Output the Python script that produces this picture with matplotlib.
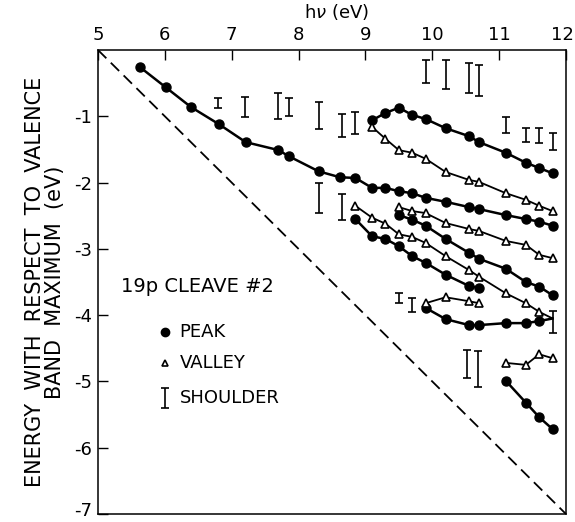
import numpy as np
import matplotlib.pyplot as plt
import matplotlib.transforms as mtransforms

plt.rcParams['font.family'] = ['DejaVu Sans']

# photon energy (eV) / energy (eV)
peak_1_x = [5.63, 6.01, 6.39, 6.81, 7.21, 7.70, 7.85, 8.30, 8.62, 8.85, 9.1, 9.3, 9.5, 9.7, 9.9, 10.2, 10.55, 10.7, 11.1, 11.4, 11.6, 11.8]
peak_1_y = [-0.26, -0.56, -0.86, -1.12, -1.39, -1.51, -1.60, -1.83, -1.92, -1.93, -2.08, -2.08, -2.13, -2.16, -2.23, -2.29, -2.37, -2.40, -2.49, -2.55, -2.59, -2.65]

peak_2_x = [9.1, 9.3, 9.5, 9.7, 9.9, 10.2, 10.55, 10.7, 11.1, 11.4, 11.6, 11.8]
peak_2_y = [-1.06, -0.95, -0.87, -0.98, -1.04, -1.18, -1.30, -1.39, -1.55, -1.70, -1.78, -1.86]

peak_3_x = [9.5, 9.7, 9.9, 10.2, 10.55, 10.7, 11.1, 11.4, 11.6, 11.8]
peak_3_y = [-2.49, -2.56, -2.65, -2.85, -3.06, -3.15, -3.30, -3.50, -3.57, -3.70]

peak_4_x = [8.85, 9.1, 9.3, 9.5, 9.7, 9.9, 10.2, 10.55, 10.7]
peak_4_y = [-2.55, -2.81, -2.85, -2.96, -3.11, -3.21, -3.39, -3.56, -3.59]

peak_5_x = [9.9, 10.2, 10.55, 10.7, 11.1, 11.4, 11.6]
peak_5_y = [-3.89, -4.06, -4.15, -4.15, -4.12, -4.12, -4.09]

peak_6_x = [11.1, 11.4, 11.6, 11.8]
peak_6_y = [-4.99, -5.32, -5.54, -5.72]

valley_1_x = [9.1, 9.3, 9.5, 9.7, 9.9, 10.2, 10.55, 10.7, 11.1, 11.4, 11.6, 11.8]
valley_1_y = [-1.16, -1.34, -1.51, -1.55, -1.64, -1.84, -1.96, -1.99, -2.16, -2.26, -2.35, -2.43]

valley_2_x = [9.5, 9.7, 9.9, 10.2, 10.55, 10.7, 11.1, 11.4, 11.6, 11.8]
valley_2_y = [-2.37, -2.43, -2.46, -2.61, -2.70, -2.73, -2.88, -2.94, -3.09, -3.14]

valley_3_x = [8.85, 9.1, 9.3, 9.5, 9.7, 9.9, 10.2, 10.55, 10.7, 11.1, 11.4, 11.6]
valley_3_y = [-2.35, -2.53, -2.62, -2.78, -2.82, -2.91, -3.11, -3.32, -3.42, -3.67, -3.82, -3.95]

valley_4_x = [9.9, 10.2, 10.55, 10.7]
valley_4_y = [-3.82, -3.73, -3.79, -3.82]

valley_5_x = [11.1, 11.4, 11.6, 11.8]
valley_5_y = [-4.72, -4.75, -4.59, -4.65]

# shoulder bars: photon energy, top and bottom of the bar
shoulder_x = [6.8, 7.2, 7.7, 7.85, 8.3, 8.3, 8.65, 8.65, 8.85, 9.9, 10.2, 10.55, 10.7,
              11.1, 11.4, 11.6, 11.8, 9.5, 9.7, 11.8, 10.52, 10.69]
shoulder_top = [-0.72, -0.71, -0.65, -0.72, -0.78, -2.01, -0.97, -2.17, -0.94, -0.15, -0.15, -0.20, -0.23,
                -1.01, -1.18, -1.18, -1.25, -3.67, -3.74, -3.94, -4.52, -4.54]
shoulder_bot = [-0.87, -1.01, -1.04, -0.99, -1.19, -2.46, -1.31, -2.56, -1.27, -0.50, -0.59, -0.65, -0.69,
                -1.25, -1.39, -1.40, -1.51, -3.82, -3.95, -4.27, -4.95, -5.08]

# the two curves that run into the shoulder at 11.8 eV
join_x, join_y = 11.8, -4.05

fig = plt.figure(figsize=(5.75, 5.22), dpi=100)
ax = fig.add_axes([0.1704, 0.0153, 0.8139, 0.8889])

# dashed diagonal
ax.plot([5, 12], [0, -7], color='black', lw=1.3, dashes=(6.5, 3.5))

pk = dict(color='black', lw=1.8, marker='o', ms=6.5, mfc='black', mec='black')
vl = dict(color='black', lw=1.3, marker='^', ms=6, mfc='white', mec='black', mew=1.2)

for px, py in [(peak_1_x, peak_1_y), (peak_2_x, peak_2_y), (peak_3_x, peak_3_y),
               (peak_4_x, peak_4_y), (peak_6_x, peak_6_y)]:
    ax.plot(px, py, **pk)
ax.plot(peak_5_x + [join_x], peak_5_y + [join_y], markevery=list(range(len(peak_5_x))), **pk)

for vx, vy in [(valley_1_x, valley_1_y), (valley_2_x, valley_2_y),
               (valley_4_x, valley_4_y), (valley_5_x, valley_5_y)]:
    ax.plot(vx, vy, **vl)
ax.plot(valley_3_x + [join_x], valley_3_y + [join_y], markevery=list(range(len(valley_3_x))), **vl)

sx = np.array(shoulder_x)
st = np.array(shoulder_top)
sb = np.array(shoulder_bot)
ax.errorbar(sx, (st + sb) / 2, yerr=(st - sb) / 2, fmt='none', ecolor='black',
            elinewidth=1.2, capsize=3, capthick=1.2)

# key
ax.text(5.35, -3.57, '19p CLEAVE #2', fontsize=14, va='center', ha='left')
ax.plot([6.0], [-4.25], 'o', color='black', ms=6)
ax.text(6.22, -4.25, 'PEAK', fontsize=13, va='center')
ax.plot([6.0], [-4.72], '^', mfc='white', mec='black', ms=5, mew=1.2)
ax.text(6.22, -4.72, 'VALLEY', fontsize=13, va='center')
ax.errorbar([6.0], [-5.25], yerr=[0.15], fmt='none', ecolor='black', elinewidth=1.2, capsize=3, capthick=1.2)
ax.text(6.22, -5.25, 'SHOULDER', fontsize=13, va='center')

ax.set_xlim(5, 12)
ax.set_ylim(-7, 0)
ax.xaxis.tick_top()
ax.xaxis.set_label_position('top')
ax.set_xticks(range(5, 13))
ax.set_yticks(range(-7, 0))
ax.set_yticklabels(['-7', '-6', '-5', '-4', '-3', '-2', '-1'])
ax.tick_params(direction='in', length=7, width=1, labelsize=13, pad=4)
ax.set_xlabel(r'h$\nu$ (eV)', fontsize=13, labelpad=3)
ax.xaxis.set_label_coords(0.51, 1.07)
ax.set_ylabel('ENERGY  WITH  RESPECT  TO  VALENCE\nBAND  MAXIMUM  (eV)', fontsize=15,
              labelpad=7, linespacing=1.0)
for s in ax.spines.values():
    s.set_linewidth(1.1)

# keep the corner labels inside the canvas, as in the original
fig.canvas.draw()
ax.get_xticklabels()[-1].set_transform(ax.get_xticklabels()[-1].get_transform()
                                       + mtransforms.ScaledTranslation(-4 / 100, 0, fig.dpi_scale_trans))
ax.get_yticklabels()[0].set_transform(ax.get_yticklabels()[0].get_transform()
                                      + mtransforms.ScaledTranslation(0, 5 / 100, fig.dpi_scale_trans))

fig.savefig('out.png', dpi=100)
